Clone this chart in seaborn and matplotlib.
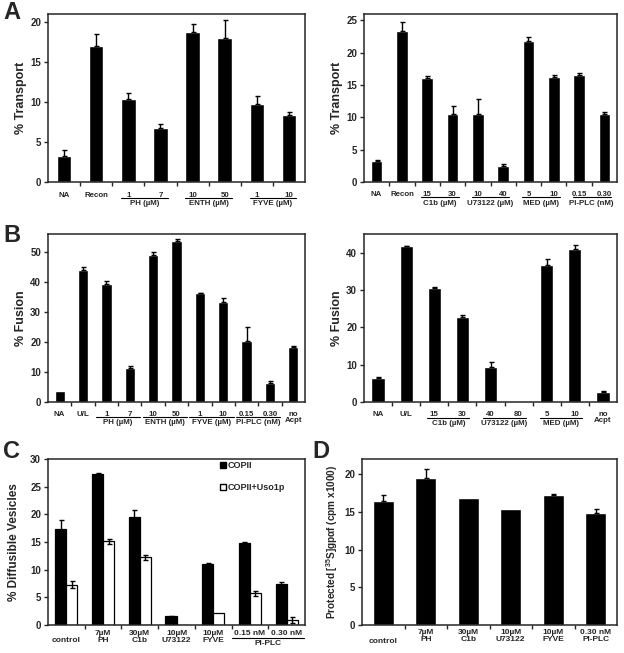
import numpy as np
import pandas as pd
import seaborn as sns
import matplotlib.pyplot as plt
from matplotlib.lines import Line2D

# ---- data ----
# A, left
a1_cond = ['NA', 'Recon', 'PH 1', 'PH 7', 'ENTH 10', 'ENTH 50', 'FYVE 1', 'FYVE 10']
a1_ticks = ['NA', 'Recon', '1', '7', '10', '50', '1', '10']
a1_val = [3.3, 17.0, 10.4, 6.7, 18.8, 18.0, 9.8, 8.4]
a1_err = [0.7, 1.5, 0.7, 0.6, 1.0, 2.3, 0.9, 0.3]
a1_groups = [(2, 3, 'PH (µM)'), (4, 5, 'ENTH (µM)'), (6, 7, 'FYVE (µM)')]

# A, right
a2_cond = ['NA', 'Recon', 'C1b 15', 'C1b 30', 'U73122 10', 'U73122 40',
           'MED 5', 'MED 10', 'PI-PLC 0.15', 'PI-PLC 0.30']
a2_ticks = ['NA', 'Recon', '15', '30', '10', '40', '5', '10', '0.15', '0.30']
a2_val = [3.3, 23.3, 16.1, 10.5, 10.5, 2.5, 21.8, 16.2, 16.5, 10.5]
a2_err = [0.1, 1.4, 0.3, 1.3, 2.4, 0.3, 0.6, 0.3, 0.3, 0.3]
a2_groups = [(2, 3, 'C1b (µM)'), (4, 5, 'U73122 (µM)'), (6, 7, 'MED (µM)'),
             (8, 9, 'PI-PLC (nM)')]

# B, left
b1_cond = ['NA', 'U/L', 'PH 1', 'PH 7', 'ENTH 10', 'ENTH 50', 'FYVE 1', 'FYVE 10',
           'PI-PLC 0.15', 'PI-PLC 0.30', 'no Acpt']
b1_ticks = ['NA', 'U/L', '1', '7', '10', '50', '1', '10', '0.15', '0.30', 'no\nAcpt']
b1_val = [3.8, 44.0, 39.3, 11.5, 49.0, 53.7, 36.2, 33.5, 20.2, 6.5, 18.3]
b1_err = [0.0, 1.0, 1.0, 0.5, 1.0, 0.7, 0.3, 1.2, 4.8, 0.6, 0.4]
b1_groups = [(2, 3, 'PH (µM)'), (4, 5, 'ENTH (µM)'), (6, 7, 'FYVE (µM)'),
             (8, 9, 'PI-PLC (nM)')]

# B, right
b2_cond = ['NA', 'U/L', 'C1b 15', 'C1b 30', 'U73122 40', 'U73122 80',
           'MED 5', 'MED 10', 'no Acpt']
b2_ticks = ['NA', 'U/L', '15', '30', '40', '80', '5', '10', 'no\nAcpt']
b2_val = [6.4, 41.7, 30.5, 22.7, 9.5, 0.0, 36.7, 40.9, 2.6]
b2_err = [0.3, 0.2, 0.3, 0.6, 1.1, 0.0, 1.6, 1.1, 0.4]
b2_groups = [(2, 3, 'C1b (µM)'), (4, 5, 'U73122 (µM)'), (6, 7, 'MED (µM)')]

# C
c_cond = ['control', '7µM\nPH', '30µM\nC1b', '10µM\nU73122', '10µM\nFYVE',
          '0.15 nM', '0.30 nM']
c_series = ['COPII', 'COPII+Uso1p']
c_copii = [17.3, 27.3, 19.5, 1.6, 11.0, 14.9, 7.5]
c_copii_err = [1.6, 0.2, 1.2, 0.1, 0.2, 0.1, 0.2]
c_uso = [7.3, 15.1, 12.2, 0.0, 2.1, 5.7, 0.9]
c_uso_err = [0.6, 0.4, 0.4, 0.0, 0.0, 0.4, 0.6]
c_groups = [(5, 6, 'PI-PLC')]

# D
d_cond = ['control', '7µM\nPH', '30µM\nC1b', '10µM\nU73122', '10µM\nFYVE', '0.30 nM\nPI-PLC']
d_val = [16.4, 19.5, 16.8, 15.4, 17.2, 14.9]
d_err = [0.8, 1.2, 0.0, 0.0, 0.2, 0.5]

# ---- style ----
sns.set_style('ticks')
plt.rcParams['font.family'] = ['Liberation Sans', 'DejaVu Sans']
plt.rcParams['font.weight'] = 'bold'
plt.rcParams['axes.labelweight'] = 'bold'
plt.rcParams['mathtext.fontset'] = 'custom'
plt.rcParams['mathtext.rm'] = 'Liberation Sans:bold'
plt.rcParams['mathtext.it'] = 'Liberation Sans:bold'
plt.rcParams['mathtext.bf'] = 'Liberation Sans:bold'

W, H = 624, 653
fig = plt.figure(figsize=(W / 100, H / 100), dpi=100)


def make_axes(l, t, r, b):
    return fig.add_axes([l / W, 1 - b / H, (r - l) / W, (b - t) / H])


def style_axes(ax, n, ymax, yticks, ylabel, labelpad=2, ylfs=9):
    ax.set_xlim(-0.5, n - 0.5)
    ax.set_ylim(0, ymax)
    ax.set_yticks(yticks)
    ax.set_xticks(np.arange(n - 1) + 0.5)
    ax.set_xticklabels([])
    ax.tick_params(axis='x', length=3, width=1, direction='out')
    ax.tick_params(axis='y', length=3, width=1, labelsize=7, pad=2)
    for s in ax.spines.values():
        s.set_visible(True)
        s.set_linewidth(1.1)
    ax.set_xlabel('')
    ax.set_ylabel(ylabel, fontsize=ylfs, labelpad=labelpad)


def add_xlabels(ax, labels, groups, top1, line, top2, pad=0.3, fs=5.7):
    tr = ax.get_xaxis_transform()
    h = ax.bbox.height
    for i, lab in enumerate(labels):
        ax.text(i, -top1 / h, lab, transform=tr, ha='center', va='top',
                fontsize=fs, linespacing=1.0)
    for i0, i1, name in groups:
        ax.plot([i0 - pad, i1 + pad], [-line / h, -line / h], transform=tr,
                color='black', lw=0.8, clip_on=False)
        ax.text((i0 + i1) / 2, -top2 / h, name, transform=tr, ha='center',
                va='top', fontsize=fs)


def add_err(ax, container, vals, errs, both=False):
    xs = np.array([p.get_x() + p.get_width() / 2 for p in container])
    vals = np.array(vals)
    errs = np.array(errs)
    m = errs > 0
    lower = errs[m] if both else np.zeros(m.sum())
    ax.errorbar(xs[m], vals[m], yerr=[lower, errs[m]], fmt='none', ecolor='black',
                elinewidth=1, capsize=1.8, capthick=1)


def black_panel(ax, cond, val, err, width):
    sns.barplot(x=cond, y=val, color='black', width=width, saturation=1,
                errorbar=None, ax=ax)
    add_err(ax, ax.containers[0], val, err)


# A left
ax = make_axes(48, 14, 305, 182)
black_panel(ax, a1_cond, a1_val, a1_err, 0.45)
style_axes(ax, len(a1_cond), 21, [0, 5, 10, 15, 20], '% Transport')
add_xlabels(ax, a1_ticks, a1_groups, 9.5, 15.5, 17.5, pad=0.22)

# A right
ax = make_axes(364, 14, 617, 182)
black_panel(ax, a2_cond, a2_val, a2_err, 0.46)
style_axes(ax, len(a2_cond), 26, [0, 5, 10, 15, 20, 25], '% Transport')
add_xlabels(ax, a2_ticks, a2_groups, 8.5, 15, 17.5, pad=0.25)

# B left
ax = make_axes(48, 234, 305, 402)
black_panel(ax, b1_cond, b1_val, b1_err, 0.44)
style_axes(ax, len(b1_cond), 56, [0, 10, 20, 30, 40, 50], '% Fusion')
add_xlabels(ax, b1_ticks, b1_groups, 8.5, 15, 17.5, pad=0.45)

# B right
ax = make_axes(364, 234, 617, 402)
black_panel(ax, b2_cond, b2_val, b2_err, 0.47)
style_axes(ax, len(b2_cond), 45, [0, 10, 20, 30, 40], '% Fusion')
add_xlabels(ax, b2_ticks, b2_groups, 8.5, 15.5, 18, pad=0.25)

# C
ax = make_axes(48, 459, 305, 625)
df_c = pd.DataFrame({
    'cond': c_cond * 2,
    'series': [c_series[0]] * len(c_cond) + [c_series[1]] * len(c_cond),
    'value': c_copii + c_uso,
})
sns.barplot(data=df_c, x='cond', y='value', hue='series', order=c_cond,
            palette=['black', 'white'], edgecolor='black', linewidth=0.9,
            width=0.6, saturation=1, errorbar=None, ax=ax)
add_err(ax, ax.containers[0], c_copii, c_copii_err, both=True)
add_err(ax, ax.containers[1], c_uso, c_uso_err, both=True)
style_axes(ax, len(c_cond), 30, [0, 5, 10, 15, 20, 25, 30],
           '% Diffusible Vesicles', labelpad=7, ylfs=8.5)
ax.legend(handles=[
    Line2D([], [], marker='s', ls='', color='black', mfc='black', markersize=4.5),
    Line2D([], [], marker='s', ls='', color='black', mfc='white', markersize=4.5)],
    labels=c_series, loc='upper left', bbox_to_anchor=(0.67, 0.99),
    frameon=False, fontsize=6.5, handlelength=0.6, handletextpad=0.2,
    labelspacing=1.5, borderaxespad=0, borderpad=0)
add_xlabels(ax, c_cond, c_groups, 5, 12.5, 15, pad=0.48, fs=6)
# single-line label sits lower
ax.texts[0].set_y(-12 / ax.bbox.height)

# D
ax = make_axes(362, 459, 617, 625)
black_panel(ax, d_cond, d_val, d_err, 0.49)
style_axes(ax, len(d_cond), 22, [0, 5, 10, 15, 20],
           r'Protected [$^{35}$S]gp$\alpha$f (cpm x1000)', labelpad=3, ylfs=7.2)
add_xlabels(ax, d_cond, [], 4, 0, 0, fs=6)
ax.texts[0].set_y(-13 / ax.bbox.height)

# panel letters
for x, y, s in [(3, 19, 'A'), (3, 242, 'B'), (3, 458, 'C'), (312, 458, 'D')]:
    fig.text(x / W, 1 - y / H, s, fontsize=17, fontweight='bold', va='baseline')

fig.savefig('out.png', dpi=100)
